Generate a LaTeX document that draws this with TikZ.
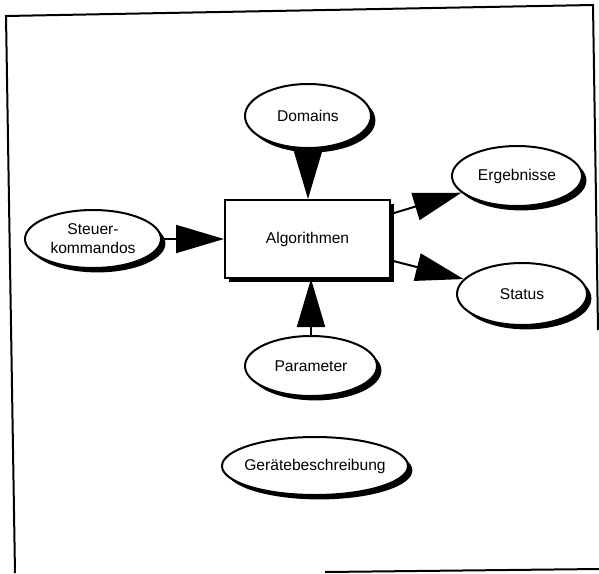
\documentclass[tikz,border=0pt]{standalone}
\usepackage{fontspec}
\setmainfont{Liberation Sans}
\usetikzlibrary{positioning,shapes.geometric,shadows,arrows.meta}

\begin{document}
\begin{tikzpicture}[
  x=0.5pt,y=-0.5pt,
  every node/.style={font=\fontsize{7.8}{9.4}\selectfont},
  shade/.style={drop shadow={shadow xshift=2.2pt,shadow yshift=-2.2pt,fill=black,opacity=1}},
  oval/.style={ellipse,draw,line width=1pt,fill=white,inner sep=0pt,align=center,shade},
  algo/.style={rectangle,draw,line width=1pt,fill=white,minimum width=82.5pt,minimum height=39pt,shade},
  flow/.style={-{Triangle[length=24pt,width=14pt]},line width=1pt},
  frame/.style={line width=1pt}
]
\useasboundingbox (0,0) rectangle (599,573);

% Scanned frame
\draw[frame] (598,330) -- (593,5) -- (6,16) -- (15,573);
\draw[frame] (325,572) -- (599,569);

% Central block
\node[algo] (alg) at (307.5,239) {Algorithmen};

% Inputs
\node[oval,minimum width=63pt,minimum height=32pt] (dom) at (308,116) {Domains};
\node[oval,minimum width=68pt,minimum height=29pt] (st) at (93,239) {Steuer-\\kommandos};
\node[oval,minimum width=66pt,minimum height=30pt] (par) at (311,366) {Parameter};

% Outputs
\node[oval,minimum width=65pt,minimum height=30pt] (erg) at (517,176) {Ergebnisse};
\node[oval,minimum width=65pt,minimum height=31pt] (stat) at (522,294) {Status};

% Device description
\node[oval,inner xsep=-4pt,minimum width=93pt,minimum height=29pt] (ger) at (315,466) {Gerätebeschreibung};

% Connections
\draw[flow] (dom) -- (dom |- alg.north);
\draw[flow] (st) -- (st -| alg.west);
\draw[flow] (par) -- (par |- alg.south);
\draw[flow] (alg) -- (erg);
\draw[flow] (alg) -- (stat);
\end{tikzpicture}
\end{document}
